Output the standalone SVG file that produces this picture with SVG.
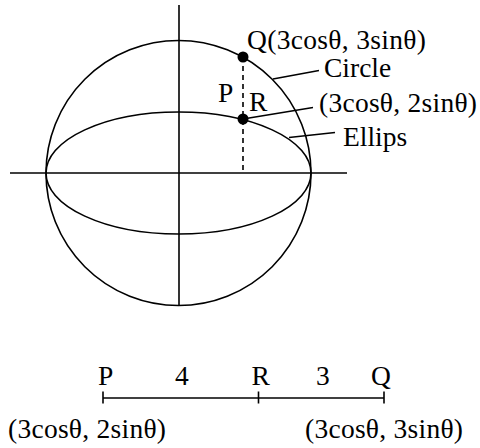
<svg xmlns="http://www.w3.org/2000/svg" width="480" height="448" viewBox="0 0 480 448">
<style>
.l{fill:none;stroke:#000;stroke-width:1.6}
.d{stroke-dasharray:5 4}
text{font-family:"Liberation Serif","Times New Roman",serif;font-size:27.5px;fill:#000}
</style>
<rect width="480" height="448" fill="#fff"/>
<g id="axes">
<line class="l" x1="10" y1="173" x2="347" y2="173"/>
<line class="l" x1="179" y1="5" x2="179" y2="306"/>
</g>
<g id="circle"><circle class="l" cx="178.5" cy="173" r="132.5"/></g>
<g id="ellipse"><ellipse class="l" cx="178.5" cy="173" rx="132.5" ry="61"/></g>
<g id="connectors">
<line class="l d" x1="243" y1="57" x2="243" y2="173"/>
<line class="l" x1="273" y1="79" x2="319" y2="70.5"/>
<line class="l" x1="243" y1="119" x2="313" y2="107.5"/>
<line class="l" x1="289" y1="137.5" x2="335" y2="132.5"/>
</g>
<g id="Q"><circle cx="243" cy="57" r="5.5"/><text x="247" y="49" textLength="179">Q(3cosθ, 3sinθ)</text></g>
<g id="R"><circle cx="243" cy="119" r="5.5"/><text x="249" y="111">R</text></g>
<g id="P"><text x="218" y="102">P</text></g>
<g id="labels">
<text x="324" y="77">Circle</text>
<text x="319" y="112" textLength="158">(3cosθ, 2sinθ)</text>
<text x="343" y="146">Ellips</text>
</g>
<g id="segment">
<line class="l" x1="103" y1="398" x2="384" y2="398"/>
<line class="l" x1="103" y1="391.5" x2="103" y2="403.5"/>
<line class="l" x1="258.5" y1="391.5" x2="258.5" y2="403.5"/>
<line class="l" x1="384" y1="391.5" x2="384" y2="403.5"/>
<text x="98" y="385">P</text>
<text x="175" y="385">4</text>
<text x="251.5" y="385">R</text>
<text x="316" y="385">3</text>
<text x="371" y="385">Q</text>
<text x="8" y="438" textLength="158">(3cosθ, 2sinθ)</text>
<text x="305" y="438" textLength="158">(3cosθ, 3sinθ)</text>
</g>
</svg>
